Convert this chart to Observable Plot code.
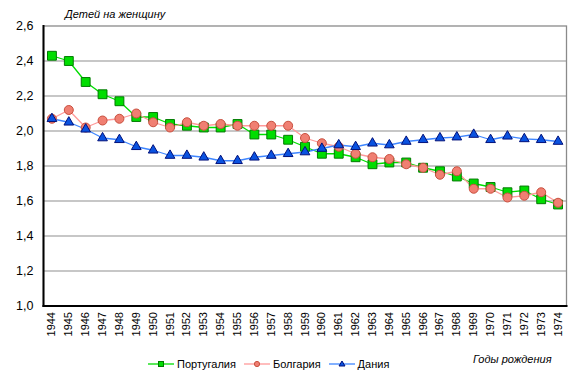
<!DOCTYPE html>
<html><head><meta charset="utf-8">
<script src="https://cdn.jsdelivr.net/npm/d3@7"></script>
<script src="https://cdn.jsdelivr.net/npm/@observablehq/plot@0.6"></script>
<style>
body{margin:0;background:#fff;font-family:"Liberation Sans",Arial,sans-serif;}
#wrap{position:relative;width:580px;height:384px;overflow:hidden;}
.lbl{position:absolute;font-style:italic;font-size:11px;color:#000;white-space:nowrap;}
#legend{position:absolute;left:148px;top:358px;display:flex;align-items:center;font-size:11px;color:#000;}
#legend .it{display:flex;align-items:center;margin-right:8px;}
#legend svg{margin-right:3px;}
</style></head>
<body><div id="wrap"></div>
<script>
const years = [1944,1945,1946,1947,1948,1949,1950,1951,1952,1953,1954,1955,1956,1957,1958,1959,1960,1961,1962,1963,1964,1965,1966,1967,1968,1969,1970,1971,1972,1973,1974];
const portugal = [2.43,2.40,2.28,2.21,2.17,2.08,2.08,2.04,2.03,2.02,2.02,2.04,1.98,1.98,1.95,1.91,1.87,1.87,1.85,1.81,1.82,1.82,1.79,1.77,1.74,1.70,1.68,1.65,1.66,1.61,1.58];
const bulgaria = [2.07,2.12,2.02,2.06,2.07,2.10,2.05,2.02,2.05,2.03,2.04,2.03,2.03,2.03,2.03,1.96,1.93,1.91,1.87,1.85,1.84,1.81,1.79,1.75,1.77,1.67,1.67,1.62,1.63,1.65,1.59];
const denmark = [2.07,2.05,2.01,1.96,1.95,1.91,1.89,1.86,1.86,1.85,1.83,1.83,1.85,1.86,1.87,1.88,1.90,1.92,1.91,1.93,1.92,1.94,1.95,1.96,1.965,1.98,1.95,1.97,1.955,1.95,1.94];
const seriesNames = ["Португалия","Болгария","Дания"];
const yTicks = [1.0,1.2,1.4,1.6,1.8,2.0,2.2,2.4,2.6];
const yTitle = "Детей на женщину";
const xTitle = "Годы рождения";

const styles = [
  {line:"#00dd00", fill:"#00dd00", stroke:"#007a00", symbol:"square", r:5.0},
  {line:"#ff9a9a", fill:"#f07f72", stroke:"#c8503f", symbol:"circle", r:4.5},
  {line:"#3f86ff", fill:"#0a52e0", stroke:"#00107a", symbol:"triangle", r:3.6}
];
const values = [portugal, bulgaria, denmark];
const rows = values.map((vals, i) => years.map((y, j) => ({year: String(y), v: vals[j], s: seriesNames[i]})));
const fmt = d => d.toFixed(1).replace(".", ",");

const marks = [
  Plot.gridY(yTicks.slice(1, -1), {stroke: "#b4b4b4", strokeOpacity: 1, strokeWidth: 1.3}),
  Plot.frame({stroke: "#8a8a8a", strokeWidth: 1.3}),
  Plot.frame({anchor: "left", stroke: "#000", strokeWidth: 2}),
  Plot.frame({anchor: "bottom", stroke: "#000", strokeWidth: 2}),
  Plot.axisY(yTicks, {tickSize: 0, tickPadding: 10, tickFormat: fmt, fontSize: 12.5, fill: "#000", label: null}),
  Plot.axisX(years.map(String), {tickSize: 0, tickPadding: 6, tickRotate: -90, fontSize: 11, fill: "#000", label: null})
];
rows.forEach((r, i) => {
  const st = styles[i];
  marks.push(Plot.line(r, {x: "year", y: "v", stroke: st.line, strokeWidth: 1.3}));
});
rows.forEach((r, i) => {
  const st = styles[i];
  marks.push(Plot.dot(r, {x: "year", y: "v", symbol: st.symbol, r: st.r, fill: st.fill, stroke: st.stroke, strokeWidth: 1}));
});

const chart = Plot.plot({
  width: 580, height: 384,
  marginLeft: 43, marginRight: 14, marginTop: 25.5, marginBottom: 78.5,
  style: {fontFamily: "'Liberation Sans', Arial, sans-serif", background: "#fff", color: "#000"},
  x: {type: "point", domain: years.map(String), padding: 0.5, round: false, axis: null},
  y: {domain: [1.0, 2.6], axis: null},
  marks
});
const wrap = document.getElementById("wrap");
wrap.appendChild(chart);

const t1 = document.createElement("div");
t1.className = "lbl"; t1.style.left = "65px"; t1.style.top = "8px"; t1.textContent = yTitle;
wrap.appendChild(t1);
const t2 = document.createElement("div");
t2.className = "lbl"; t2.style.left = "473px"; t2.style.top = "353px"; t2.textContent = xTitle;
wrap.appendChild(t2);

const legend = document.createElement("div");
legend.id = "legend";
seriesNames.forEach((name, i) => {
  const st = styles[i];
  const it = document.createElement("div"); it.className = "it";
  const sym = st.symbol === "square" ? `<rect x="10.5" y="2.5" width="5" height="5" fill="${st.fill}" stroke="${st.stroke}" stroke-width="1"/>`
    : st.symbol === "circle" ? `<circle cx="13" cy="5" r="2.6" fill="${st.fill}" stroke="${st.stroke}" stroke-width="1"/>`
    : `<path d="M13,2 L16,7 L10,7Z" fill="${st.fill}" stroke="${st.stroke}" stroke-width="1"/>`;
  it.innerHTML = `<svg width="26" height="10"><line x1="0" x2="26" y1="5" y2="5" stroke="${st.line}" stroke-width="1.3"/>${sym}</svg><span>${name}</span>`;
  legend.appendChild(it);
});
wrap.appendChild(legend);
</script></body></html>
